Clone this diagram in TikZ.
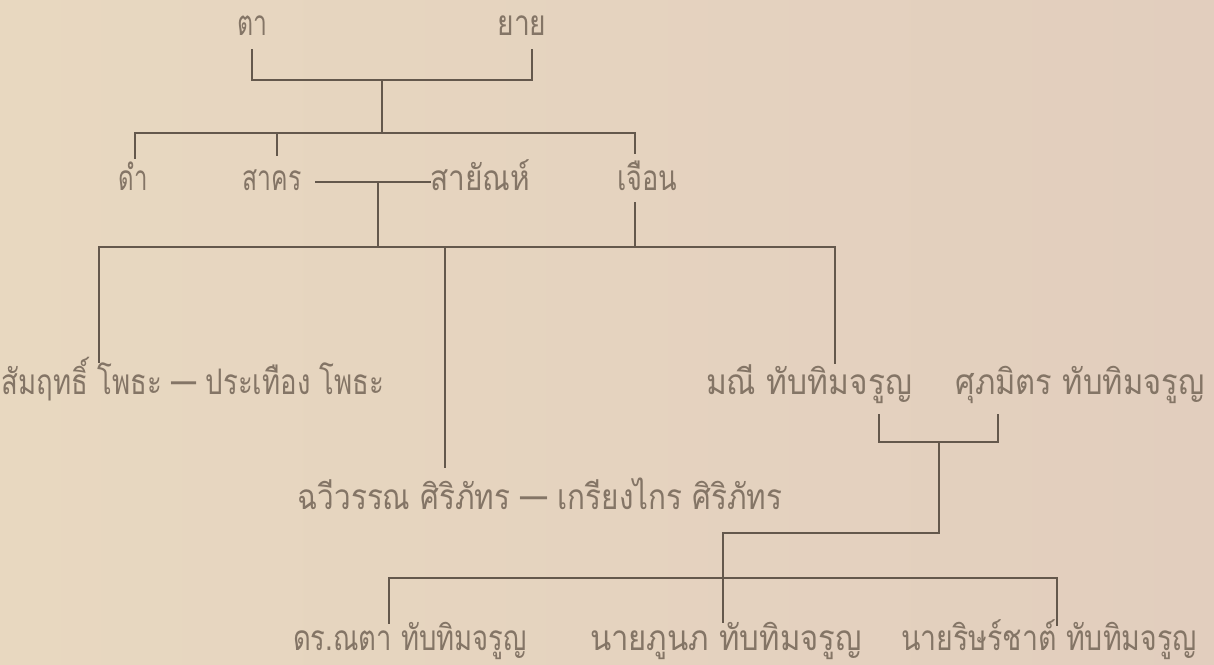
\documentclass[tikz,border=0pt]{standalone}
\usepackage{fontspec}
\usepackage{graphicx}
\newfontfamily\thai[Script=Thai]{Loma}
\definecolor{bgL}{RGB}{232,216,192}
\definecolor{bgM}{RGB}{241,232,210}
\definecolor{bgR}{RGB}{226,206,190}
\definecolor{lnc}{RGB}{100,88,76}
\definecolor{txc}{RGB}{132,117,102}
\newcommand{\vsc}{1.1}
\newcommand{\fitw}[2]{\scalebox{1}[\vsc]{\resizebox{#1}{\height}{#2}}}
\tikzset{
  lbl/.style={anchor=base, inner sep=0pt, outer sep=0pt, text=txc, font=\fontsize{32pt}{32pt}\thai},
  ln/.style={draw=lnc, line width=2.6pt, line cap=rect}
}
\begin{document}
\begin{tikzpicture}[x=1pt, y=-1pt]
\useasboundingbox (0,0) rectangle (1214,664);
\shade[left color=bgL, middle color=bgM, right color=bgR] (0,0) rectangle (1214,664);

% nodes
\node[lbl] (ta) at (252,35) {\fitw{30pt}{ตา}};
\node[lbl] (yai) at (522,35) {\fitw{49pt}{ยาย}};
\node[lbl] (dam) at (133,190) {\fitw{29pt}{ดำ}};
\node[lbl] (sakorn) at (272,190) {\fitw{59pt}{สาคร}};
\node[lbl] (sayan) at (480,190) {\fitw{100pt}{สายัณห์}};
\node[lbl] (chuean) at (647,190) {\fitw{60pt}{เจือน}};
\node[lbl] (samrit) at (193,394) {\fitw{383pt}{สัมฤทธิ์ โพธะ — ประเทือง โพธะ}};
\node[lbl] (mani) at (809,394) {\fitw{206pt}{มณี ทับทิมจรูญ}};
\node[lbl] (suppamit) at (1080,394) {\fitw{249pt}{ศุภมิตร ทับทิมจรูญ}};
\node[lbl] (chawiwan) at (540,509) {\fitw{485pt}{ฉวีวรรณ ศิริภัทร — เกรียงไกร ศิริภัทร}};
\node[lbl] (nata) at (410,650) {\fitw{234pt}{ดร.ณตา ทับทิมจรูญ}};
\node[lbl] (phunop) at (726,650) {\fitw{272pt}{นายภูนภ ทับทิมจรูญ}};
\node[lbl] (rit) at (1049,650) {\fitw{296pt}{นายริษร์ชาต์ ทับทิมจรูญ}};

% junctions
\coordinate (g1) at (382,80);
\coordinate (g2) at (382,133);
\coordinate (m1) at (378,182);
\coordinate (g3) at (378,247);
\coordinate (g4) at (445,247);
\coordinate (g5) at (635,247);
\coordinate (g6) at (939,442);
\coordinate (g7) at (939,533);
\coordinate (g8) at (723,578);

% grandparents
\draw[ln] ([yshift=-15pt]ta.base) |- (g1) -| ([xshift=10pt,yshift=-15pt]yai.base);
\draw[ln] (g1) -- (g2);
% children of grandparents
\draw[ln] ([xshift=2pt,yshift=32pt]dam.base) |- (g2) -| ([xshift=-12pt,yshift=37pt]chuean.base);
\draw[ln] ([xshift=5pt,yshift=35pt]sakorn.base) |- (g2);
% marriage sakorn - sayan
\draw[ln] ([xshift=15pt,yshift=8pt]sakorn.base east) -- ([yshift=8pt]sayan.base west);
\draw[ln] (m1) -- (g3);
% grandchildren row
\draw[ln] ([xshift=-94pt,yshift=32pt]samrit.base) |- (g3) -| ([xshift=26pt,yshift=31pt]mani.base);
\draw[ln] (g4) -- ([xshift=-95pt,yshift=42pt]chawiwan.base);
\draw[ln] ([xshift=-12pt,yshift=-13pt]chuean.base) -- (g5);
% mani - suppamit
\draw[ln] ([xshift=70pt,yshift=-21pt]mani.base) |- (g6) -| ([xshift=-82pt,yshift=-21pt]suppamit.base);
\draw[ln] (g6) -- (g7) -| ([xshift=-3pt,yshift=28pt]phunop.base);
\draw[ln] ([xshift=-21pt,yshift=27pt]nata.base) |- (g8) -| ([xshift=8pt,yshift=25pt]rit.base);
\end{tikzpicture}
\end{document}
